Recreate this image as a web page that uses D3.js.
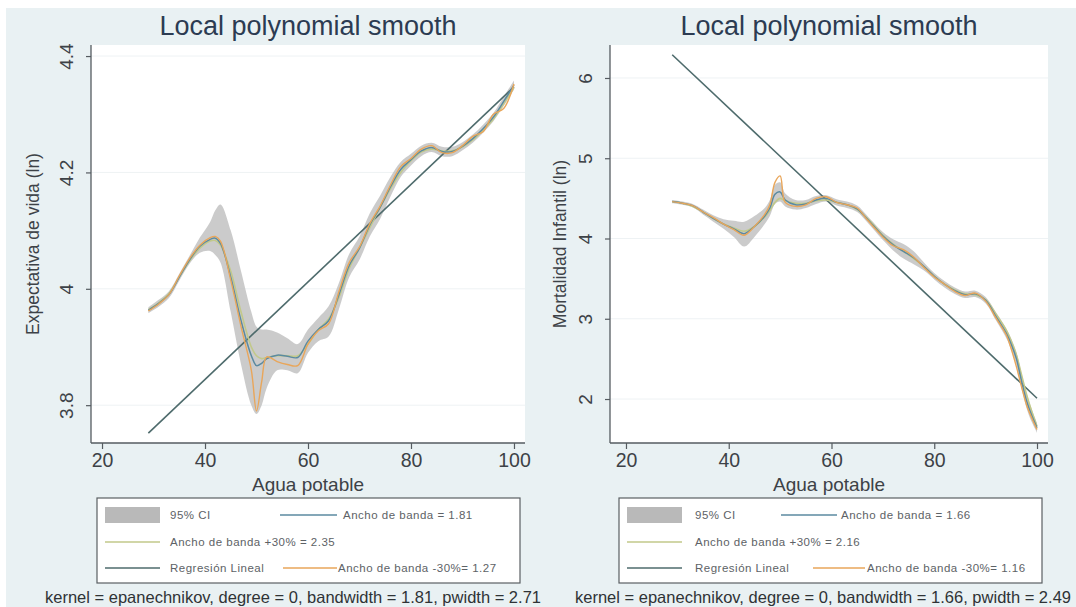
<!DOCTYPE html>
<html>
<head>
<meta charset="utf-8">
<script src="https://cdn.jsdelivr.net/npm/d3@7"></script>
<style>
  body { margin: 0; background: #ffffff; }
  svg { display: block; font-family: "Liberation Sans", Arial, sans-serif; }
</style>
</head>
<body>
<svg id="chart" width="1076" height="607"></svg>
<script>
// ---- Left panel: life expectancy (ln) vs. drinking water coverage ----
const xLeft = [29,31,33,35,37,39,41,42,43,45,47,49,50,51,52,54,56,58,60,62,64,66,68,70,72,74,76,78,80,82,84,86,88,90,92,94,96,98,100];
const leftMain  = [3.963,3.975,3.990,4.020,4.050,4.073,4.085,4.087,4.078,4.020,3.945,3.885,3.868,3.872,3.880,3.886,3.884,3.882,3.910,3.930,3.945,3.990,4.040,4.070,4.110,4.140,4.175,4.205,4.222,4.237,4.243,4.236,4.236,4.245,4.258,4.275,4.295,4.322,4.350];
const leftLow   = [3.958,3.969,3.984,4.014,4.043,4.062,4.065,4.058,4.045,3.960,3.870,3.800,3.785,3.800,3.830,3.860,3.860,3.855,3.890,3.910,3.918,3.965,4.020,4.050,4.090,4.120,4.158,4.192,4.212,4.228,4.235,4.228,4.228,4.238,4.251,4.268,4.288,4.314,4.342];
const leftHigh  = [3.968,3.981,3.996,4.026,4.057,4.088,4.115,4.135,4.145,4.100,4.030,3.960,3.935,3.930,3.930,3.925,3.915,3.905,3.930,3.950,3.970,4.010,4.060,4.090,4.130,4.160,4.192,4.218,4.232,4.246,4.251,4.244,4.244,4.252,4.265,4.282,4.302,4.330,4.358];
const leftPlus  = [3.964,3.976,3.992,4.020,4.048,4.070,4.082,4.083,4.075,4.030,3.960,3.900,3.885,3.880,3.882,3.885,3.885,3.885,3.905,3.930,3.948,3.985,4.035,4.070,4.105,4.140,4.172,4.200,4.220,4.235,4.240,4.237,4.237,4.244,4.256,4.273,4.292,4.318,4.346];
const leftMinus = [3.962,3.974,3.990,4.022,4.052,4.075,4.088,4.090,4.082,4.015,3.935,3.860,3.790,3.840,3.883,3.875,3.870,3.868,3.905,3.928,3.940,3.995,4.045,4.072,4.112,4.142,4.178,4.210,4.224,4.240,4.246,4.234,4.234,4.246,4.262,4.270,4.300,4.310,4.352];
const leftRegX = [29, 100];
const leftRegY = [3.752, 4.347];
const leftYTicks = [3.8, 4, 4.2, 4.4];
const leftLegend = ["95% CI", "Ancho de banda = 1.81", "Ancho de banda +30% = 2.35", "Regresión Lineal", "Ancho de banda -30%= 1.27"];

// ---- Right panel: infant mortality (ln) vs. drinking water coverage ----
const xRight = [29,31,33,35,37,39,41,43,45,47,48,49,50,51,53,55,57,59,61,63,65,67,70,72,74,76,78,80,82,84,86,88,90,92,94,95,96,97,98,99,100];
const rightMain  = [4.46,4.44,4.41,4.33,4.25,4.18,4.12,4.06,4.15,4.28,4.38,4.55,4.58,4.48,4.42,4.43,4.48,4.50,4.45,4.42,4.37,4.24,4.03,3.92,3.84,3.76,3.65,3.53,3.43,3.35,3.30,3.31,3.23,3.03,2.82,2.68,2.50,2.22,1.97,1.79,1.64];
const rightLow   = [4.44,4.42,4.39,4.30,4.21,4.12,4.02,3.90,4.02,4.18,4.28,4.43,4.46,4.40,4.36,4.38,4.43,4.46,4.41,4.38,4.33,4.20,3.98,3.85,3.75,3.68,3.60,3.49,3.39,3.31,3.26,3.27,3.19,2.98,2.76,2.61,2.42,2.13,1.88,1.71,1.58];
const rightHigh  = [4.48,4.46,4.43,4.36,4.29,4.24,4.22,4.21,4.28,4.38,4.48,4.67,4.70,4.56,4.48,4.48,4.53,4.54,4.49,4.46,4.41,4.28,4.08,3.99,3.93,3.84,3.70,3.57,3.47,3.39,3.34,3.35,3.27,3.08,2.88,2.75,2.58,2.31,2.06,1.87,1.70];
const rightPlus  = [4.46,4.44,4.40,4.33,4.25,4.18,4.13,4.09,4.15,4.27,4.35,4.45,4.50,4.47,4.44,4.44,4.47,4.48,4.45,4.42,4.36,4.25,4.04,3.93,3.84,3.75,3.65,3.53,3.43,3.36,3.31,3.30,3.24,3.06,2.86,2.72,2.55,2.30,2.05,1.84,1.66];
const rightMinus = [4.46,4.44,4.41,4.33,4.26,4.18,4.11,4.04,4.15,4.30,4.42,4.70,4.78,4.45,4.40,4.42,4.50,4.52,4.45,4.42,4.38,4.23,4.02,3.91,3.86,3.77,3.64,3.52,3.43,3.34,3.29,3.32,3.22,3.01,2.80,2.62,2.40,2.15,1.92,1.76,1.62];
const rightRegX = [29, 100];
const rightRegY = [6.29, 2.01];
const rightYTicks = [2, 3, 4, 5, 6];
const rightLegend = ["95% CI", "Ancho de banda = 1.66", "Ancho de banda +30% = 2.16", "Regresión Lineal", "Ancho de banda -30%= 1.16"];

const xTicks = [20, 40, 60, 80, 100];
const chartTitle = "Local polynomial smooth";
const xTitle = "Agua potable";

const COLORS = {
  bg: "#e9f1f3",
  band: "#b9b9b9",
  main: "#5b8aa0",
  plus: "#c2c98a",
  reg: "#4e6b6c",
  minus: "#e9a65a",
  axis: "#555b60",
  text: "#3d4247",
  title: "#2c3b52"
};

const svg = d3.select("#chart");
svg.append("rect").attr("x", 6).attr("y", 8).attr("width", 1070).attr("height", 599).attr("fill", COLORS.bg);

function drawPanel(p) {
  const g = svg.append("g");
  const x = d3.scaleLinear().domain(p.xDomain).range(p.xRange);
  const y = d3.scaleLinear().domain(p.yDomain).range([443, 45]);

  // plot region
  g.append("rect")
    .attr("x", p.xRange[0]).attr("y", 45)
    .attr("width", p.xRange[1] - p.xRange[0]).attr("height", 398)
    .attr("fill", "#ffffff");

  // horizontal grid lines
  g.selectAll(".grid").data(p.yTicks).join("line")
    .attr("x1", p.xRange[0]).attr("x2", p.xRange[1])
    .attr("y1", d => y(d)).attr("y2", d => y(d))
    .attr("stroke", "#eef2f4").attr("stroke-width", 1);

  // title
  g.append("text")
    .attr("x", (p.xRange[0] + p.xRange[1]) / 2).attr("y", 35)
    .attr("text-anchor", "middle").attr("font-size", 27)
    .attr("fill", COLORS.title).text(chartTitle);

  // axes
  const xAxis = d3.axisBottom(x).tickValues(xTicks).tickSize(6).tickPadding(4).tickFormat(d3.format("d"));
  const xg = g.append("g").attr("transform", "translate(0,443)").call(xAxis);
  xg.select(".domain").attr("stroke", COLORS.axis).attr("stroke-width", 1.3)
    .attr("d", `M${p.xRange[0]},0H${p.xRange[1]}`);
  xg.selectAll(".tick line").attr("stroke", COLORS.axis).attr("stroke-width", 1.2);
  xg.selectAll(".tick text").attr("font-size", 19.5).attr("fill", COLORS.text)
    .attr("font-family", "'Liberation Sans', Arial, sans-serif").attr("dy", "0.72em");

  const yAxis = d3.axisLeft(y).tickValues(p.yTicks).tickSize(5).tickFormat(p.yFormat);
  const yg = g.append("g").attr("transform", `translate(${p.xRange[0]},0)`).call(yAxis);
  yg.select(".domain").attr("stroke", COLORS.axis).attr("stroke-width", 1.3).attr("d", "M0,45V443");
  yg.selectAll(".tick line").attr("stroke", COLORS.axis).attr("stroke-width", 1.2);
  yg.selectAll(".tick text")
    .attr("font-size", 19).attr("fill", COLORS.text)
    .attr("font-family", "'Liberation Sans', Arial, sans-serif")
    .attr("x", null).attr("dy", null)
    .attr("text-anchor", "middle").attr("dominant-baseline", "central")
    .attr("transform", "translate(-25,0) rotate(-90)");

  // axis titles
  g.append("text")
    .attr("x", (p.xRange[0] + p.xRange[1]) / 2).attr("y", 491)
    .attr("text-anchor", "middle").attr("font-size", 19)
    .attr("fill", COLORS.text).text(xTitle);
  g.append("text")
    .attr("transform", `translate(${p.xRange[0] - p.yTitleOffset},244) rotate(-90)`)
    .attr("text-anchor", "middle").attr("dominant-baseline", "central")
    .attr("font-size", 17.5).attr("fill", COLORS.text).text(p.yTitle);

  // confidence band
  const rows = p.xs.map((v, i) => ({x: v, lo: p.low[i], hi: p.high[i], m: p.main[i], pl: p.plus[i], mi: p.minus[i]}));
  const area = d3.area().x(d => x(d.x)).y0(d => y(d.lo)).y1(d => y(d.hi)).curve(d3.curveCatmullRom.alpha(0.5));
  g.append("path").datum(rows).attr("d", area).attr("fill", COLORS.band).attr("fill-opacity", 0.75);

  // linear fit
  const reg = p.regX.map((v, i) => ({x: v, y: p.regY[i]}));
  g.append("path").datum(reg)
    .attr("d", d3.line().x(d => x(d.x)).y(d => y(d.y)))
    .attr("fill", "none").attr("stroke", COLORS.reg).attr("stroke-width", 1.6);

  const lineOf = key => d3.line().x(d => x(d.x)).y(d => y(d[key])).curve(d3.curveCatmullRom.alpha(0.5));
  g.append("path").datum(rows).attr("d", lineOf("pl"))
    .attr("fill", "none").attr("stroke", COLORS.plus).attr("stroke-width", 1.6);
  g.append("path").datum(rows).attr("d", lineOf("m"))
    .attr("fill", "none").attr("stroke", COLORS.main).attr("stroke-width", 1.5);
  g.append("path").datum(rows).attr("d", lineOf("mi"))
    .attr("fill", "none").attr("stroke", COLORS.minus).attr("stroke-width", 1.4);

  // legend
  const L = p.legend;
  const lg = g.append("g").attr("transform", `translate(${L.x},498)`);
  lg.append("rect").attr("width", 423).attr("height", 85)
    .attr("fill", "#ffffff").attr("stroke", "#5a5f63").attr("stroke-width", 1.2);
  const ts = sel => sel.attr("font-size", 11.5).attr("letter-spacing", 0.5)
    .attr("fill", "#5d6266").attr("dominant-baseline", "central");
  lg.append("rect").attr("x", 8).attr("y", 9).attr("width", 55).attr("height", 16).attr("fill", COLORS.band);
  lg.append("text").attr("x", L.t1).attr("y", 17).text(p.labels[0]).call(ts);
  lg.append("line").attr("x1", L.l2[0]).attr("x2", L.l2[1]).attr("y1", 17).attr("y2", 17)
    .attr("stroke", COLORS.main).attr("stroke-width", 1.3);
  lg.append("text").attr("x", L.t2).attr("y", 17).text(p.labels[1]).call(ts);
  lg.append("line").attr("x1", 8).attr("x2", 63).attr("y1", 44).attr("y2", 44)
    .attr("stroke", COLORS.plus).attr("stroke-width", 1.3);
  lg.append("text").attr("x", L.t1).attr("y", 44).text(p.labels[2]).call(ts);
  lg.append("line").attr("x1", 8).attr("x2", 63).attr("y1", 70).attr("y2", 70)
    .attr("stroke", COLORS.reg).attr("stroke-width", 1.3);
  lg.append("text").attr("x", L.t1).attr("y", 70).text(p.labels[3]).call(ts);
  lg.append("line").attr("x1", L.l4[0]).attr("x2", L.l4[1]).attr("y1", 70).attr("y2", 70)
    .attr("stroke", COLORS.minus).attr("stroke-width", 1.3);
  lg.append("text").attr("x", L.t4).attr("y", 70).text(p.labels[4]).call(ts);

  // kernel note
  g.append("text")
    .attr("x", p.noteX).attr("y", 603)
    .attr("text-anchor", "middle").attr("font-size", 16.5)
    .attr("fill", "#2f3336").text(p.note);
}

drawPanel({
  xDomain: [17.86, 102.14], xRange: [91, 525],
  yDomain: [3.735, 4.419], yTicks: leftYTicks, yFormat: d3.format(".1~f"),
  yTitle: "Expectativa de vida (ln)", yTitleOffset: 58,
  xs: xLeft, main: leftMain, low: leftLow, high: leftHigh, plus: leftPlus, minus: leftMinus,
  regX: leftRegX, regY: leftRegY, labels: leftLegend,
  legend: {x: 97, t1: 73, l2: [183, 240], t2: 246, l4: [186, 240], t4: 241},
  note: "kernel = epanechnikov, degree = 0, bandwidth = 1.81, pwidth = 2.71", noteX: 293
});

drawPanel({
  xDomain: [16.89, 102.14], xRange: [610, 1048],
  yDomain: [1.452, 6.411], yTicks: rightYTicks, yFormat: d3.format("d"),
  yTitle: "Mortalidad Infantil (ln)", yTitleOffset: 50,
  xs: xRight, main: rightMain, low: rightLow, high: rightHigh, plus: rightPlus, minus: rightMinus,
  regX: rightRegX, regY: rightRegY, labels: rightLegend,
  legend: {x: 619, t1: 76, l2: [162, 218], t2: 222, l4: [194, 246], t4: 248},
  note: "kernel = epanechnikov, degree = 0, bandwidth = 1.66, pwidth = 2.49", noteX: 823
});
</script>
</body>
</html>
